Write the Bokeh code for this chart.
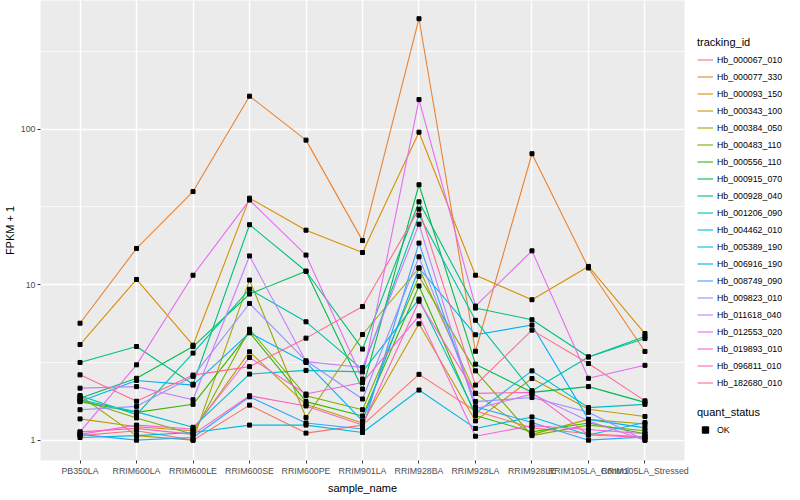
from bokeh.plotting import figure
from bokeh.layouts import row
from bokeh.models import FactorRange, Range1d, FixedTicker, Legend, LegendItem, PrintfTickFormatter
from bokeh.embed import file_html
from bokeh.resources import INLINE

samples = ["PB350LA", "RRIM600LA", "RRIM600LE", "RRIM600SE", "RRIM600PE", "RRIM901LA",
           "RRIM928BA", "RRIM928LA", "RRIM928LE", "RRIM105LA_Control", "RRIM105LA_Stressed"]

tracking_ids = ["Hb_000067_010", "Hb_000077_330", "Hb_000093_150", "Hb_000343_100", "Hb_000384_050",
                "Hb_000483_110", "Hb_000556_110", "Hb_000915_070", "Hb_000928_040", "Hb_001206_090",
                "Hb_004462_010", "Hb_005389_190", "Hb_006916_190", "Hb_008749_090", "Hb_009823_010",
                "Hb_011618_040", "Hb_012553_020", "Hb_019893_010", "Hb_096811_010", "Hb_182680_010"]

# FPKM + 1 per sample, one list per tracking_id
hb_000067_010 = [1.07, 1.15, 1.0, 1.68, 1.11, 1.25, 2.65, 1.54, 1.2, 1.1, 1.05]
hb_000077_330 = [5.65, 17.1, 39.7, 163, 85, 19.2, 513, 3.73, 69.5, 12.8, 3.72]
hb_000093_150 = [4.12, 10.8, 4.08, 36, 22.4, 16.1, 95.6, 11.5, 8.0, 13.1, 4.85]
hb_000343_100 = [1.37, 1.22, 1.15, 3.7, 1.70, 1.29, 5.6, 1.33, 2.49, 1.58, 1.42]
hb_000384_050 = [1.93, 1.07, 1.0, 10.7, 1.40, 4.78, 12.8, 2.0, 1.09, 1.36, 1.27]
hb_000483_110 = [1.82, 1.39, 1.09, 5.17, 1.93, 1.57, 11.3, 2.79, 1.07, 1.25, 1.15]
hb_000556_110 = [1.77, 1.51, 1.70, 4.93, 1.77, 1.43, 9.8, 1.44, 1.13, 1.29, 1.1]
hb_000915_070 = [1.86, 2.5, 4.0, 8.7, 12.2, 2.13, 43.9, 3.08, 2.03, 2.21, 1.75]
hb_000928_040 = [3.16, 4.0, 2.29, 24.3, 12.2, 3.85, 34.1, 7.07, 5.95, 3.43, 4.64]
hb_001206_090 = [1.93, 1.46, 3.63, 9.35, 5.77, 2.84, 28.0, 5.9, 2.08, 3.43, 4.5]
hb_004462_010 = [1.82, 1.52, 1.21, 2.66, 2.81, 2.75, 8.07, 1.49, 2.79, 1.62, 1.70]
hb_005389_190 = [1.04, 1.07, 1.12, 1.25, 1.25, 1.12, 2.1, 1.19, 1.41, 1.08, 1.30]
hb_006916_190 = [1.77, 2.42, 2.26, 4.9, 3.16, 1.33, 12.8, 4.76, 5.5, 1.36, 1.2]
hb_008749_090 = [1.09, 1.0, 1.04, 1.9, 1.29, 1.18, 18.5, 1.64, 1.30, 1.0, 1.05]
hb_009823_010 = [1.57, 1.65, 2.57, 7.57, 3.24, 1.84, 15.1, 1.77, 1.88, 1.51, 1.0]
hb_011618_040 = [2.16, 2.21, 1.82, 15.3, 3.2, 2.93, 24.5, 1.59, 1.98, 1.33, 1.0]
hb_012553_020 = [1.13, 3.05, 11.5, 35, 15.5, 2.47, 155, 7.28, 16.5, 2.5, 3.03]
hb_019893_010 = [1.09, 1.25, 1.18, 3.4, 1.98, 2.35, 6.3, 1.06, 1.24, 1.17, 1.1]
hb_096811_010 = [1.13, 1.19, 1.09, 1.93, 1.66, 1.25, 7.83, 2.0, 2.03, 1.08, 1.04]
hb_182680_010 = [2.63, 1.78, 2.62, 2.97, 4.53, 7.23, 30.6, 2.26, 5.1, 3.11, 1.79]

series = [hb_000067_010, hb_000077_330, hb_000093_150, hb_000343_100, hb_000384_050,
          hb_000483_110, hb_000556_110, hb_000915_070, hb_000928_040, hb_001206_090,
          hb_004462_010, hb_005389_190, hb_006916_190, hb_008749_090, hb_009823_010,
          hb_011618_040, hb_012553_020, hb_019893_010, hb_096811_010, hb_182680_010]

quant_status = ["OK"]

palette = ["#F8766D", "#EA8331", "#D89000", "#C09B00", "#A3A500", "#7CAE00", "#39B600", "#00BB4E",
           "#00BF7D", "#00C1A3", "#00BFC4", "#00BAE0", "#00B0F6", "#35A2FF", "#9590FF", "#C77CFF",
           "#E76BF3", "#FA62DB", "#FF62BC", "#FF6C91"]

FONT = "Liberation Sans"

p = figure(x_range=FactorRange(factors=samples, range_padding=0.2, range_padding_units="absolute"),
           y_range=Range1d(0.74, 672), y_axis_type="log",
           frame_width=644, frame_height=460,
           min_border_left=32, min_border_right=8, min_border_top=0, min_border_bottom=32,
           output_backend="svg", toolbar_location=None)

p.background_fill_color = "#EBEBEB"
p.border_fill_color = "white"
p.outline_line_color = None

for vals, col in zip(series, palette):
    p.line(samples, vals, line_color=col, line_width=1.1)

xs_all = []
ys_all = []
for vals in series:
    xs_all.extend(samples)
    ys_all.extend(vals)
p.scatter(xs_all, ys_all, marker="square", size=4, fill_color="black", line_color="black")

# axes
p.yaxis.ticker = FixedTicker(ticks=[1, 10, 100], minor_ticks=[3.1623, 31.623, 316.23])
p.yaxis.formatter = PrintfTickFormatter(format="%d")
for ax in (p.xaxis[0], p.yaxis[0]):
    ax.axis_line_color = None
    ax.major_tick_line_color = "#333333"
    ax.major_tick_out = 3
    ax.major_tick_in = 0
    ax.minor_tick_line_color = None
    ax.major_label_text_color = "#4D4D4D"
    ax.major_label_text_font = FONT
    ax.major_label_text_font_size = "8.8px"
    ax.major_label_standoff = 2
    ax.axis_label_text_font = FONT
    ax.axis_label_text_font_size = "11px"
    ax.axis_label_text_font_style = "normal"
    ax.axis_label_text_color = "black"
    ax.axis_label_standoff = 3
p.yaxis.axis_label = "FPKM + 1"
p.yaxis.major_label_standoff = 1
p.yaxis.axis_label_standoff = 2
p.xaxis.axis_label = "sample_name"
p.xaxis.major_label_orientation = "horizontal"

p.xgrid.grid_line_color = "white"
p.xgrid.grid_line_width = 1.4
p.ygrid.grid_line_color = "white"
p.ygrid.grid_line_width = 1.4
p.ygrid.minor_grid_line_color = "white"
p.ygrid.minor_grid_line_width = 0.7

# legend panel (its glyphs lie outside its visible range; only the legends show)
lf = figure(width=100, height=492, x_range=Range1d(0, 1), y_range=Range1d(0, 1),
            min_border=0, x_axis_location=None, y_axis_location=None,
            output_backend="svg", toolbar_location=None)
lf.outline_line_color = None
lf.background_fill_color = "white"
lf.grid.visible = False

line_items = []
for tid, col in zip(tracking_ids, palette):
    r = lf.line([5, 6], [5, 6], line_color=col, line_width=1.1)
    line_items.append(LegendItem(label=tid, renderers=[r]))
pt = lf.scatter([5], [5], marker="square", size=4, fill_color="black", line_color="black")

def style_legend(lg):
    lg.title_text_font = FONT
    lg.title_text_font_size = "11px"
    lg.title_text_font_style = "normal"
    lg.title_text_color = "black"
    lg.label_text_font = FONT
    lg.label_text_font_size = "8.8px"
    lg.label_text_color = "black"
    lg.glyph_width = 16
    lg.glyph_height = 17
    lg.label_height = 17
    lg.label_standoff = 4
    lg.spacing = 0
    lg.padding = 0
    lg.margin = 0
    lg.border_line_color = None
    lg.background_fill_alpha = 0
    lg.title_standoff = 3
    lg.item_background_fill_alpha = 0

leg1 = Legend(items=line_items, location=(5, 65), title="tracking_id")
style_legend(leg1)
lf.add_layout(leg1)

leg2 = Legend(items=[LegendItem(label=quant_status[0], renderers=[pt])], location=(5, 18), title="quant_status")
style_legend(leg2)
lf.add_layout(leg2)

layout = row(p, lf, spacing=0)
open("out.html", "w").write(file_html(layout, INLINE))
